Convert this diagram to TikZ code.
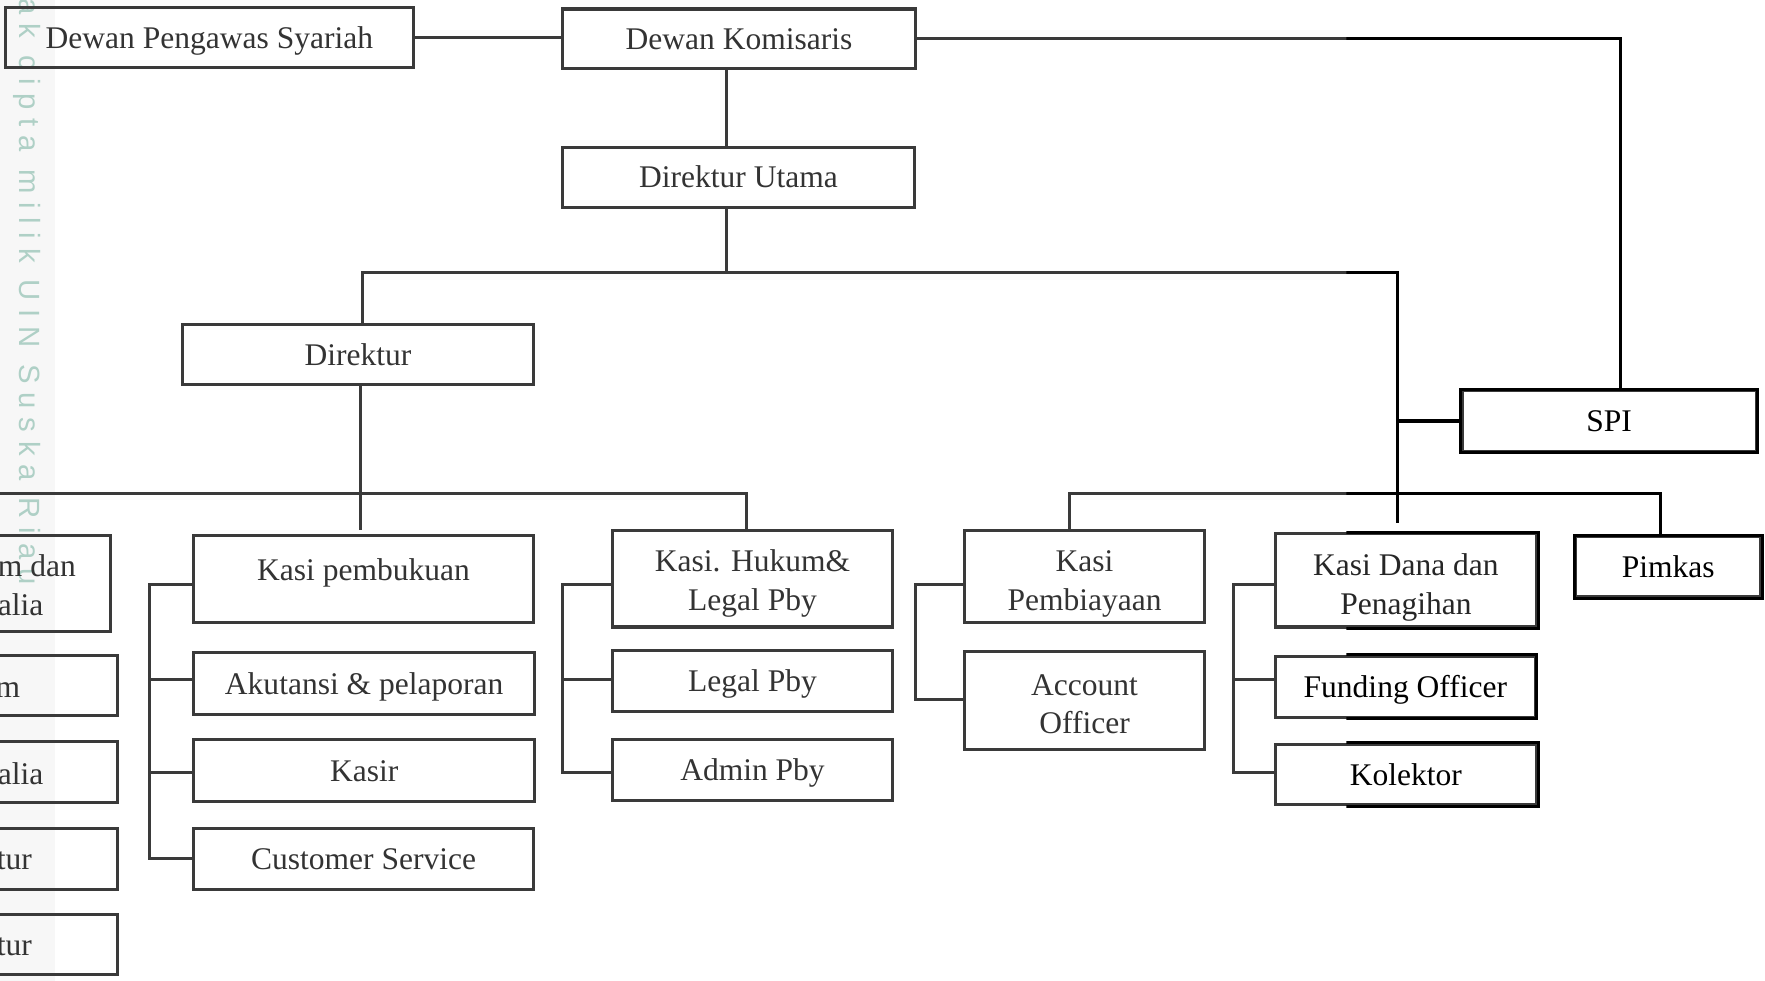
\documentclass[tikz,border=0pt]{standalone}
\usepackage{fontspec}
\setmainfont{Liberation Serif}
\newfontfamily\wmfont[LetterSpace=30]{Liberation Sans}
\definecolor{linegray}{HTML}{3A3A3A}
\definecolor{txtgray}{HTML}{333333}
\definecolor{wmteal}{RGB}{175,208,198}
\definecolor{bandgray}{HTML}{F7F7F7}
\newcommand\tstrut[1]{\rule{0pt}{#1}}
\tikzset{
  basebox/.style={rectangle, draw=linegray, line width=2.7pt, inner sep=0pt,
    font=\fontsize{28}{34}\selectfont, text=txtgray},
  onebox/.style={basebox, text height=22pt, text depth=3pt},
  twobox/.style={basebox, align=center},
  frag/.style={inner sep=0pt, font=\fontsize{28}{34}\selectfont, text=txtgray,
    anchor=west, align=left},
  fragone/.style={frag, text height=22pt, text depth=3pt},
  conn/.style={line width=2.7pt},
  wmark/.style={inner sep=0pt, rotate=-90, anchor=base west, text=wmteal,
    font=\wmfont\fontsize{26}{30}\selectfont}
}
\newcommand\myconns{%
  \draw[conn] (dps.east) -- (dps.east -| dk.west);
  \draw[conn] (dk.east) -| (spi.north -| spix);
  \draw[conn] (dk.south -| j1) -- (du.north -| j1);
  \draw[conn] (du.south -| j1) -- (j1);
  \draw[conn] (dir.north -| j1l) -- (j1l) -- (j1r) -- (kdin);
  \draw[conn] (spi.west) -- (spi.west -| j1r);
  \draw[conn] (dir.south -| dj) -- (dj);
  \draw[conn] (h1) -- (h1r) -- (kh.north -| h1r);
  \draw[conn] (kpb.north -| h2l) -- (h2l) -- (h2r) -- (pim.north -| h2r);
  \draw[conn] (kp.west |- 0,519) -| (ba) -- (cs.west |- ba);
  \draw[conn] (ba |- 0,604) -- (ak.west |- 0,604);
  \draw[conn] (ba |- 0,686) -- (ksr.west |- 0,686);
  \draw[conn] (kh.west |- 0,519) -| (bb) -- (ap.west |- bb);
  \draw[conn] (bb |- 0,604) -- (lp.west |- 0,604);
  \draw[conn] (kpb.west |- 0,519) -| (bc) -- (ao.west |- bc);
  \draw[conn] (kd.west |- 0,519) -| (bd) -- (kol.west |- bd);
  \draw[conn] (bd |- 0,604) -- (fo.west |- 0,604);
}
\begin{document}
\begin{tikzpicture}[x=1pt, y=-1pt]
\useasboundingbox (0,0) rectangle (1568,871.5);
\fill[bandgray] (0,0) rectangle (49,871.5);
\node[wmark] (wm) at (17,-28) {Hak cipta milik UIN Suska Riau};

% coordinates
\coordinate (spix) at (1440,0);
\coordinate (j1) at (645,242);
\coordinate (j1l) at (322,242);
\coordinate (j1r) at (1241.5,242);
\coordinate (kdin) at (1241.5,465);
\coordinate (dj) at (320,471);
\coordinate (h1) at (-5,438);
\coordinate (h1r) at (663,438);
\coordinate (h2l) at (950,438);
\coordinate (h2r) at (1475,438);
\coordinate (ba) at (133,763);
\coordinate (bb) at (500,686);
\coordinate (bc) at (813,621);
\coordinate (bd) at (1096,686);

% boxes
\node[onebox, minimum width=362pt, minimum height=53pt] (dps) at (186,33.5) {Dewan Pengawas Syariah};
\node[onebox, minimum width=313pt, minimum height=53pt] (dk) at (656.5,34.5) {Dewan Komisaris};
\node[onebox, minimum width=312pt, minimum height=53pt] (du) at (656,157.5) {Direktur Utama};
\node[onebox, minimum width=312pt, minimum height=54pt] (dir) at (318,315) {Direktur};
\node[onebox, minimum width=261pt, minimum height=54pt, text=black] (spi) at (1429.5,374) {SPI};

\node[twobox, minimum width=302pt, minimum height=77pt] (kp) at (323,514.5) {Kasi pembukuan\\[-17pt]~};
\node[onebox, minimum width=303pt, minimum height=55pt] (ak) at (323.5,607.5) {Akutansi \& pelaporan};
\node[onebox, minimum width=303pt, minimum height=55pt] (ksr) at (323.5,684.5) {Kasir};
\node[onebox, minimum width=302pt, minimum height=54pt] (cs) at (323,763) {Customer Service};

\node[twobox, minimum width=249pt, minimum height=86pt] (kh) at (668.5,514) {\tstrut{28pt}Kasi. Hukum\&\\Legal Pby};
\node[onebox, minimum width=249pt, minimum height=54pt] (lp) at (668.5,605) {Legal Pby};
\node[onebox, minimum width=249pt, minimum height=54pt] (ap) at (668.5,684) {Admin Pby};

\node[twobox, minimum width=213pt, minimum height=82pt] (kpb) at (963.5,512) {\tstrut{32pt}Kasi\\Pembiayaan};
\node[twobox, minimum width=213pt, minimum height=87pt] (ao) at (963.5,622.5) {\tstrut{25pt}Account\\Officer};

\node[twobox, minimum width=232pt, minimum height=83pt, text=black!85] (kd) at (1249,515.5) {\tstrut{32pt}Kasi Dana dan\\Penagihan};
\node[onebox, minimum width=231pt, minimum height=54pt, text=black] (fo) at (1248.5,610) {Funding Officer};
\node[onebox, minimum width=232pt, minimum height=54pt, text=black] (kol) at (1249,688) {Kolektor};
\node[onebox, minimum width=164pt, minimum height=53pt, text=black] (pim) at (1482,503.5) {Pimkas};

% boxes cut off at the left edge
\node[basebox, minimum width=298pt, minimum height=85pt] (l1) at (-51,518.5) {};
\node[basebox, minimum width=304pt, minimum height=54pt] (l2) at (-48,609) {};
\node[basebox, minimum width=304pt, minimum height=54pt] (l3) at (-48,686) {};
\node[basebox, minimum width=304pt, minimum height=54pt] (l4) at (-48,763) {};
\node[basebox, minimum width=304pt, minimum height=54pt] (l5) at (-48,839) {};
\node[frag] (l1t) at (-2,520) {m dan\\alia};
\node[fragone] (l2t) at (-4,610) {m};
\node[fragone] (l3t) at (-2,687) {alia};
\node[fragone] (l4t) at (-3,763) {tur};
\node[fragone] (l5t) at (-3,839) {tur};

% connectors
\begin{scope}[linegray]
\myconns
\end{scope}
\begin{scope}
\clip (1196,-20) rectangle (1600,900);
\begin{scope}[black]
\myconns
\foreach \n in {kd,fo,kol,spi,pim}
  \draw[line width=2.7pt] (\n.south west) rectangle (\n.north east);
\end{scope}
\end{scope}
\end{tikzpicture}
\end{document}
